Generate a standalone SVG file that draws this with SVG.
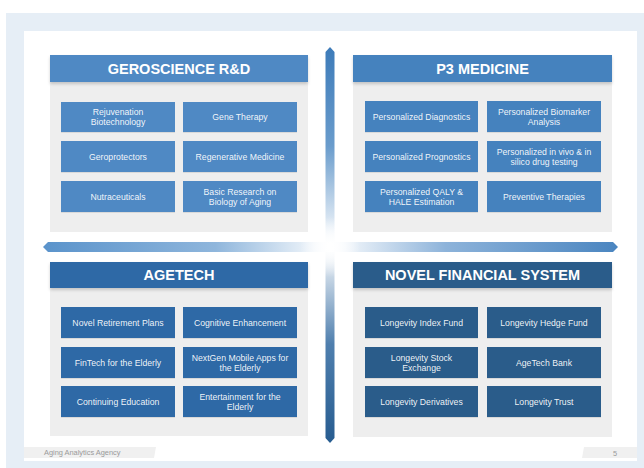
<svg xmlns="http://www.w3.org/2000/svg" width="644" height="468" viewBox="0 0 644 468">
<defs>
<style>
.hdr{font-family:"Liberation Sans",Arial,sans-serif;font-weight:bold;font-size:14.5px;fill:#ffffff;text-anchor:middle}
.bt{font-family:"Liberation Sans",Arial,sans-serif;font-size:8.7px;fill:#ffffff;fill-opacity:0.93;text-anchor:middle}
.panel{fill:#eeeeee}
.foot{font-family:"Liberation Sans",Arial,sans-serif;font-size:7.4px;fill:#9a9a9a}
.b1{fill:#4f89c4}
.b2{fill:#4582be}
.b3{fill:#2e69a6}
.b4{fill:#2a5b8a}
</style>
<filter id="sh" x="-5%" y="-20%" width="110%" height="160%">
<feDropShadow dx="0" dy="2" stdDeviation="1.6" flood-color="#000000" flood-opacity="0.18"/>
</filter>
<filter id="bs" x="-5%" y="-10%" width="110%" height="130%">
<feDropShadow dx="0" dy="0.6" stdDeviation="0.5" flood-color="#000000" flood-opacity="0.15"/>
</filter>
<linearGradient id="gv" gradientUnits="userSpaceOnUse" x1="0" y1="47" x2="0" y2="443">
<stop offset="0" stop-color="#3d7bb9"/>
<stop offset="0.25" stop-color="#6a9ccc"/>
<stop offset="0.5" stop-color="#ffffff"/>
<stop offset="0.75" stop-color="#4f7fae"/>
<stop offset="1" stop-color="#275c90"/>
</linearGradient>
<linearGradient id="gh" gradientUnits="userSpaceOnUse" x1="43" y1="0" x2="618" y2="0">
<stop offset="0" stop-color="#5a93cb"/>
<stop offset="0.3" stop-color="#8fb6dc"/>
<stop offset="0.5" stop-color="#ffffff"/>
<stop offset="0.7" stop-color="#8db3da"/>
<stop offset="1" stop-color="#4a85c0"/>
</linearGradient>
<radialGradient id="glow" cx="330" cy="247" r="30" gradientUnits="userSpaceOnUse">
<stop offset="0" stop-color="#ffffff" stop-opacity="1"/>
<stop offset="0.5" stop-color="#ffffff" stop-opacity="0.6"/>
<stop offset="1" stop-color="#ffffff" stop-opacity="0"/>
</radialGradient>
</defs>

<rect x="0" y="0" width="644" height="468" fill="#ffffff"/>
<rect x="6" y="13" width="638" height="455" fill="#e6eef6"/>
<rect x="24" y="31" width="613" height="430" fill="#ffffff"/>

<g id="connectors">
<path d="M330,47 L334.5,52 L334.5,438 L330,443 L325.5,438 L325.5,52 Z" fill="url(#gv)"/>
<path d="M43,247 L48,242 L613,242 L618,247 L613,252 L48,252 Z" fill="url(#gh)"/>
<rect x="290" y="207" width="80" height="80" fill="url(#glow)"/>
</g>

<g id="geroscience">
<rect class="panel" x="50" y="55" width="258" height="177"/>
<rect class="b1" x="50" y="55" width="258" height="27" filter="url(#sh)"/>
<text class="hdr" x="179" y="73.5">GEROSCIENCE R&amp;D</text>
<g id="g1"><rect class="b1" x="61" y="102" width="114" height="30" filter="url(#bs)"/><text class="bt" x="118" y="115.3">Rejuvenation</text><text class="bt" x="118" y="125.3">Biotechnology</text></g>
<g id="g2"><rect class="b1" x="183" y="102" width="114" height="30" filter="url(#bs)"/><text class="bt" x="240" y="120.2">Gene Therapy</text></g>
<g id="g3"><rect class="b1" x="61" y="141" width="114" height="31" filter="url(#bs)"/><text class="bt" x="118" y="159.7">Geroprotectors</text></g>
<g id="g4"><rect class="b1" x="183" y="141" width="114" height="31" filter="url(#bs)"/><text class="bt" x="240" y="159.7">Regenerative Medicine</text></g>
<g id="g5"><rect class="b1" x="61" y="181" width="114" height="31" filter="url(#bs)"/><text class="bt" x="118" y="199.7">Nutraceuticals</text></g>
<g id="g6"><rect class="b1" x="183" y="181" width="114" height="31" filter="url(#bs)"/><text class="bt" x="240" y="194.8">Basic Research on</text><text class="bt" x="240" y="204.8">Biology of Aging</text></g>
</g>

<g id="p3medicine">
<rect class="panel" x="353" y="55" width="259" height="177"/>
<rect class="b2" x="353" y="55" width="259" height="27" filter="url(#sh)"/>
<text class="hdr" x="482.5" y="73.5">P3 MEDICINE</text>
<g id="p1"><rect class="b2" x="365" y="101" width="113" height="31" filter="url(#bs)"/><text class="bt" x="421.5" y="119.7">Personalized Diagnostics</text></g>
<g id="p2"><rect class="b2" x="487" y="101" width="114" height="31" filter="url(#bs)"/><text class="bt" x="544" y="114.8">Personalized Biomarker</text><text class="bt" x="544" y="124.8">Analysis</text></g>
<g id="p3"><rect class="b2" x="365" y="141" width="113" height="31" filter="url(#bs)"/><text class="bt" x="421.5" y="159.7">Personalized Prognostics</text></g>
<g id="p4"><rect class="b2" x="487" y="141" width="114" height="31" filter="url(#bs)"/><text class="bt" x="544" y="154.8">Personalized in vivo &amp; in</text><text class="bt" x="544" y="164.8">silico drug testing</text></g>
<g id="p5"><rect class="b2" x="365" y="181" width="113" height="31" filter="url(#bs)"/><text class="bt" x="421.5" y="194.8">Personalized QALY &amp;</text><text class="bt" x="421.5" y="204.8">HALE Estimation</text></g>
<g id="p6"><rect class="b2" x="487" y="181" width="114" height="31" filter="url(#bs)"/><text class="bt" x="544" y="199.7">Preventive Therapies</text></g>
</g>

<g id="agetech">
<rect class="panel" x="50" y="262" width="258" height="174"/>
<rect class="b3" x="50" y="262" width="258" height="26" filter="url(#sh)"/>
<text class="hdr" x="179" y="280.2">AGETECH</text>
<g id="a1"><rect class="b3" x="61" y="307" width="114" height="31" filter="url(#bs)"/><text class="bt" x="118" y="325.7">Novel Retirement Plans</text></g>
<g id="a2"><rect class="b3" x="183" y="307" width="114" height="31" filter="url(#bs)"/><text class="bt" x="240" y="325.7">Cognitive Enhancement</text></g>
<g id="a3"><rect class="b3" x="61" y="347" width="114" height="31" filter="url(#bs)"/><text class="bt" x="118" y="365.7">FinTech for the Elderly</text></g>
<g id="a4"><rect class="b3" x="183" y="347" width="114" height="31" filter="url(#bs)"/><text class="bt" x="240" y="360.8">NextGen Mobile Apps for</text><text class="bt" x="240" y="370.8">the Elderly</text></g>
<g id="a5"><rect class="b3" x="61" y="386" width="114" height="31" filter="url(#bs)"/><text class="bt" x="118" y="404.7">Continuing Education</text></g>
<g id="a6"><rect class="b3" x="183" y="386" width="114" height="31" filter="url(#bs)"/><text class="bt" x="240" y="399.8">Entertainment for the</text><text class="bt" x="240" y="409.8">Elderly</text></g>
</g>

<g id="financial">
<rect class="panel" x="353" y="262" width="259" height="175"/>
<rect class="b4" x="353" y="262" width="259" height="26" filter="url(#sh)"/>
<text class="hdr" x="482.5" y="280.2">NOVEL FINANCIAL SYSTEM</text>
<g id="f1"><rect class="b4" x="365" y="307" width="113" height="31" filter="url(#bs)"/><text class="bt" x="421.5" y="325.7">Longevity Index Fund</text></g>
<g id="f2"><rect class="b4" x="487" y="307" width="114" height="31" filter="url(#bs)"/><text class="bt" x="544" y="325.7">Longevity Hedge Fund</text></g>
<g id="f3"><rect class="b4" x="365" y="347" width="113" height="31" filter="url(#bs)"/><text class="bt" x="421.5" y="360.8">Longevity Stock</text><text class="bt" x="421.5" y="370.8">Exchange</text></g>
<g id="f4"><rect class="b4" x="487" y="347" width="114" height="31" filter="url(#bs)"/><text class="bt" x="544" y="365.7">AgeTech Bank</text></g>
<g id="f5"><rect class="b4" x="365" y="386" width="113" height="31" filter="url(#bs)"/><text class="bt" x="421.5" y="404.7">Longevity Derivatives</text></g>
<g id="f6"><rect class="b4" x="487" y="386" width="114" height="31" filter="url(#bs)"/><text class="bt" x="544" y="404.7">Longevity Trust</text></g>
</g>

<g id="footer">
<path d="M24,447 L156,447 L154,458 L24,458 Z" fill="#f0f0f0"/>
<text class="foot" x="44" y="455">Aging Analytics Agency</text>
<path d="M584,447 L637,447 L637,458 L582,458 Z" fill="#f0f0f0"/>
<text class="foot" x="613" y="455.5">5</text>
</g>
</svg>
